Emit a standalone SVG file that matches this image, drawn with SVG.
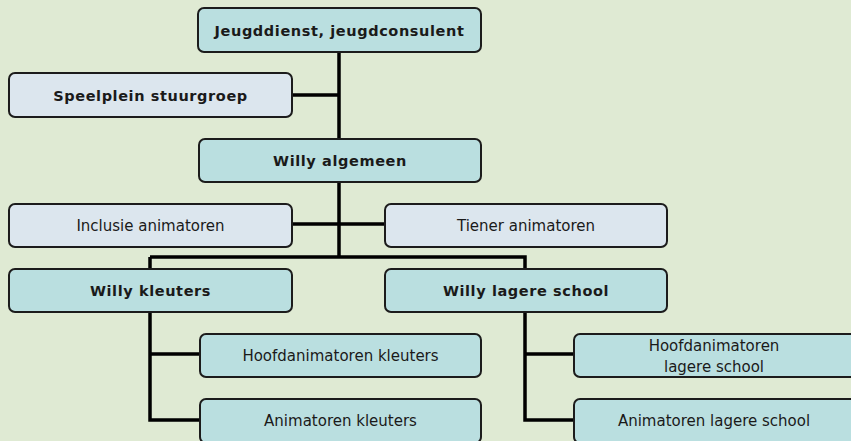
<svg xmlns="http://www.w3.org/2000/svg" width="851" height="441" viewBox="0 0 851 441">
<style>
.bg{fill:#DFEAD3}
.box{stroke:#1c1c1c;stroke-width:2}
.dark{fill:#BADFE0}
.light{fill:#DCE6EE}
.b{font-family:"DejaVu Sans",sans-serif;font-weight:bold;font-size:14.5px;letter-spacing:0.6px;fill:#1a1a1a;text-anchor:middle}
.r{font-family:"DejaVu Sans",sans-serif;font-size:15px;fill:#1a1a1a;text-anchor:middle}
.conn{stroke:#000;stroke-width:3.5;fill:none}
</style>
<rect class="bg" x="0" y="0" width="851" height="441"/>
<g id="connectors">
<path class="conn" d="M339 52V257M292 95H339M292 224H386M150 257H525V269M150 257V420H200M150 354H200M525 312V420H574M525 354H574"/>
</g>
<g id="n1"><rect class="box dark" x="198" y="8" width="283" height="44" rx="6"/><text class="b" x="339.5" y="36">Jeugddienst, jeugdconsulent</text></g>
<g id="n2"><rect class="box light" x="9" y="73" width="283" height="44" rx="6"/><text class="b" x="150.5" y="101">Speelplein stuurgroep</text></g>
<g id="n3"><rect class="box dark" x="199" y="139" width="282" height="43" rx="6"/><text class="b" x="340" y="166">Willy algemeen</text></g>
<g id="n4"><rect class="box light" x="9" y="204" width="283" height="43" rx="6"/><text class="r" x="150.5" y="231">Inclusie animatoren</text></g>
<g id="n5"><rect class="box light" x="385" y="204" width="282" height="43" rx="6"/><text class="r" x="526" y="231">Tiener animatoren</text></g>
<g id="n6"><rect class="box dark" x="9" y="269" width="283" height="43" rx="6"/><text class="b" x="150.5" y="296">Willy kleuters</text></g>
<g id="n7"><rect class="box dark" x="385" y="269" width="282" height="43" rx="6"/><text class="b" x="526" y="296">Willy lagere school</text></g>
<g id="n8"><rect class="box dark" x="200" y="334" width="281" height="43" rx="6"/><text class="r" x="340.5" y="361">Hoofdanimatoren kleuters</text></g>
<g id="n9"><rect class="box dark" x="200" y="399" width="281" height="44" rx="6"/><text class="r" x="340.5" y="426">Animatoren kleuters</text></g>
<g id="n10"><rect class="box dark" x="574" y="334" width="283" height="43" rx="6"/><text class="r" x="714" y="351">Hoofdanimatoren</text><text class="r" x="714" y="372">lagere school</text></g>
<g id="n11"><rect class="box dark" x="574" y="399" width="283" height="44" rx="6"/><text class="r" x="714" y="426">Animatoren lagere school</text></g>
</svg>
